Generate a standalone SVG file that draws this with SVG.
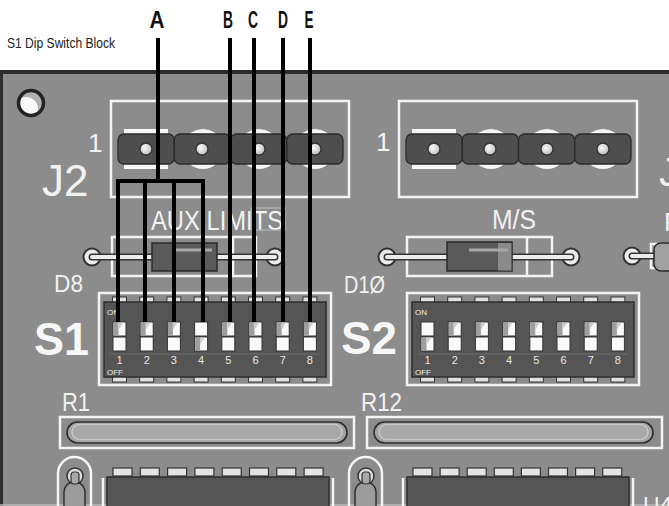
<svg xmlns="http://www.w3.org/2000/svg" xmlns:xlink="http://www.w3.org/1999/xlink" width="669" height="506" viewBox="0 0 669 506">
<style>
.lbl{font-family:"Liberation Sans",Arial,sans-serif;fill:#f2f2f2}
.big{font-family:"Liberation Sans",Arial,sans-serif;font-weight:bold;fill:#f7f7f7}
.cap{font-family:"Liberation Sans",Arial,sans-serif;font-weight:bold;fill:#111;font-size:24px}
.silk{fill:none;stroke:#f4f4f4;stroke-width:2.5}
.cell{fill:#fafafa;stroke:#333;stroke-width:1}
.pin{fill:#e2e2e2;stroke:#333;stroke-width:1}
.body{fill:#555;stroke:#2e2e2e;stroke-width:1.5}
.seg{fill:#4e4e4e;stroke:#2a2a2a;stroke-width:1.3}
.hole{fill:url(#hg);stroke:#333;stroke-width:1.3}
.pad{fill:#f6f6f6}
.num{font-family:"Liberation Sans",Arial,sans-serif;fill:#e6e6e6;font-size:11px;text-anchor:middle}
.tiny{font-family:"Liberation Sans",Arial,sans-serif;fill:#eee;font-size:8px}
.ring{fill:#ececec;stroke:#333;stroke-width:2}
.leadd{stroke:#333;stroke-width:7;stroke-linecap:round;fill:none}
.leadw{stroke:#ececec;stroke-width:4;stroke-linecap:round;fill:none}
.res{fill:#a4a4a4;stroke:#2e2e2e;stroke-width:1.6}
.icpad{fill:#e4e4e4;stroke:#333;stroke-width:1.2}
</style>
<defs>
<radialGradient id="hg" cx="0.4" cy="0.4" r="0.7">
<stop offset="0" stop-color="#fbfbfb"/><stop offset="1" stop-color="#b5b5b5"/>
</radialGradient>
<g id="swon">
<rect class="cell" x="0" y="0" width="13" height="14"/>
<rect x="0.5" y="0.5" width="5" height="13" fill="#9e9e9e"/>
<polygon points="5.5,0.5 10,0.5 5.5,8" fill="#cdcdcd"/>
<rect class="cell" x="0" y="15" width="13" height="14"/>
</g>
<g id="swoff">
<rect class="cell" x="0" y="0" width="13" height="14"/>
<rect class="cell" x="0" y="15" width="13" height="14"/>
<rect x="0.5" y="15.5" width="5" height="13" fill="#9e9e9e"/>
<polygon points="5.5,15.5 10,15.5 5.5,23" fill="#cdcdcd"/>
</g>
<clipPath id="hc"><circle cx="31" cy="103" r="12"/></clipPath>
</defs>

<g id="board">
<rect x="1" y="72" width="720" height="480" fill="#8c8c8c" stroke="#2e2e2e" stroke-width="4"/>
<line x1="0" y1="505" x2="669" y2="505" stroke="#b9b9b9" stroke-width="1.5"/>
<g clip-path="url(#hc)">
<circle cx="31" cy="103" r="12" fill="#b0b0b0"/>
<circle cx="26" cy="109" r="12" fill="#fafafa"/>
</g>
<circle cx="31" cy="103" r="12.5" fill="none" stroke="#222" stroke-width="3.5"/>
</g>

<text class="lbl" x="7" y="48" font-size="15" fill="#222" style="fill:#222" textLength="108" lengthAdjust="spacingAndGlyphs">S1 Dip Switch Block</text>

<g id="J2">
<rect class="silk" x="111" y="101" width="238" height="96"/>
<rect class="pad" x="124" y="129" width="44" height="40"/>
<circle class="pad" cx="203" cy="149" r="20"/>
<circle class="pad" cx="259" cy="149" r="20"/>
<circle class="pad" cx="315" cy="149" r="20"/>
<rect class="seg" x="118" y="134" width="56.25" height="30" rx="6"/>
<rect class="seg" x="174.25" y="134" width="56.25" height="30" rx="6"/>
<rect class="seg" x="230.5" y="134" width="56.25" height="30" rx="6"/>
<rect class="seg" x="286.75" y="134" width="56.25" height="30" rx="6"/>
<circle class="hole" cx="146" cy="149" r="6"/>
<circle class="hole" cx="202" cy="149" r="6"/>
<circle class="hole" cx="259" cy="149" r="6"/>
<circle class="hole" cx="315" cy="149" r="6"/>
<text class="lbl" x="88" y="152" font-size="26">1</text>
<text class="lbl" x="42" y="196" font-size="44">J2</text>
</g>

<g id="J3">
<rect class="silk" x="399" y="101" width="238" height="96"/>
<rect class="pad" x="412" y="129" width="44" height="40"/>
<circle class="pad" cx="491" cy="149" r="20"/>
<circle class="pad" cx="547" cy="149" r="20"/>
<circle class="pad" cx="603" cy="149" r="20"/>
<rect class="seg" x="406" y="134" width="56.25" height="30" rx="6"/>
<rect class="seg" x="462.25" y="134" width="56.25" height="30" rx="6"/>
<rect class="seg" x="518.5" y="134" width="56.25" height="30" rx="6"/>
<rect class="seg" x="574.75" y="134" width="56.25" height="30" rx="6"/>
<circle class="hole" cx="434" cy="149" r="6"/>
<circle class="hole" cx="490" cy="149" r="6"/>
<circle class="hole" cx="547" cy="149" r="6"/>
<circle class="hole" cx="603" cy="149" r="6"/>
<text class="lbl" x="376" y="151" font-size="26">1</text>
<text class="lbl" x="659" y="186" font-size="40">J</text>
</g>

<g id="D8">
<text class="lbl" x="151" y="230" font-size="28" textLength="132" lengthAdjust="spacingAndGlyphs">AUX LIMITS</text>
<rect x="251" y="208" width="34" height="22" fill="none" stroke="#bdbdbd" stroke-width="1"/>
<rect class="silk" x="112" y="237" width="144" height="39"/>
<line x1="233" y1="237" x2="233" y2="276" stroke="#f4f4f4" stroke-width="2.5"/>
<circle class="ring" cx="92" cy="257" r="8.5"/>
<circle class="ring" cx="275" cy="257" r="8.5"/>
<line class="leadd" x1="92" y1="257" x2="275" y2="257"/>
<line class="leadw" x1="92" y1="257" x2="275" y2="257"/>
<rect x="152" y="243" width="65" height="28" fill="#5a5a5a" stroke="#2a2a2a" stroke-width="1.5"/>
<line x1="176" y1="250" x2="212" y2="250" stroke="#a8a8a8" stroke-width="3"/>
<text class="lbl" x="54" y="292" font-size="24" textLength="29" lengthAdjust="spacingAndGlyphs">D8</text>
</g>

<g id="D10">
<text class="lbl" x="492" y="229" font-size="27" textLength="44" lengthAdjust="spacingAndGlyphs">M/S</text>
<rect class="silk" x="407" y="237" width="145" height="39"/>
<line x1="527" y1="237" x2="527" y2="276" stroke="#f4f4f4" stroke-width="2.5"/>
<circle class="ring" cx="387" cy="257" r="8.5"/>
<circle class="ring" cx="571" cy="257" r="8.5"/>
<line class="leadd" x1="387" y1="257" x2="571" y2="257"/>
<line class="leadw" x1="387" y1="257" x2="571" y2="257"/>
<rect x="447" y="242" width="65" height="29" fill="#5a5a5a" stroke="#2a2a2a" stroke-width="1.5"/>
<rect x="498" y="243" width="13.5" height="27.5" fill="#8a8a8a"/>
<line x1="469" y1="250" x2="508" y2="250" stroke="#a8a8a8" stroke-width="3"/>
<text class="lbl" x="344" y="293" font-size="24" textLength="41" lengthAdjust="spacingAndGlyphs">D1Ø</text>
</g>

<g id="D11">
<text class="lbl" x="664" y="231" font-size="26">R</text>
<rect class="silk" x="651" y="244" width="40" height="24"/>
<circle class="ring" cx="632" cy="256" r="8.5"/>
<line class="leadd" x1="632" y1="256" x2="660" y2="256"/>
<line class="leadw" x1="632" y1="256" x2="660" y2="256"/>
<rect x="654" y="243" width="40" height="28" rx="7" fill="#a0a0a0" stroke="#2a2a2a" stroke-width="1.5"/>
</g>

<g id="S1">
<rect class="silk" x="99" y="293" width="232" height="92"/>
<g id="s1pins">
<rect class="pin" x="112.5" y="297" width="14" height="6"/><rect class="pin" x="139.7" y="297" width="14" height="6"/><rect class="pin" x="166.9" y="297" width="14" height="6"/><rect class="pin" x="194.1" y="297" width="14" height="6"/><rect class="pin" x="221.3" y="297" width="14" height="6"/><rect class="pin" x="248.5" y="297" width="14" height="6"/><rect class="pin" x="275.7" y="297" width="14" height="6"/><rect class="pin" x="302.9" y="297" width="14" height="6"/>
<rect class="pin" x="112.5" y="376" width="14" height="6"/><rect class="pin" x="139.7" y="376" width="14" height="6"/><rect class="pin" x="166.9" y="376" width="14" height="6"/><rect class="pin" x="194.1" y="376" width="14" height="6"/><rect class="pin" x="221.3" y="376" width="14" height="6"/><rect class="pin" x="248.5" y="376" width="14" height="6"/><rect class="pin" x="275.7" y="376" width="14" height="6"/><rect class="pin" x="302.9" y="376" width="14" height="6"/>
</g>
<rect class="body" x="104" y="302" width="222" height="75"/>
<line x1="110" y1="354" x2="320" y2="354" stroke="#6c6c6c" stroke-width="1"/>
<text class="tiny" x="107" y="315">ON</text>
<text class="tiny" x="107" y="375">OFF</text>
<use xlink:href="#swon" x="113" y="322"/>
<use xlink:href="#swon" x="140.2" y="322"/>
<use xlink:href="#swon" x="167.4" y="322"/>
<use xlink:href="#swoff" x="194.6" y="322"/>
<use xlink:href="#swon" x="221.8" y="322"/>
<use xlink:href="#swon" x="249" y="322"/>
<use xlink:href="#swon" x="276.2" y="322"/>
<use xlink:href="#swon" x="303.4" y="322"/>
<text class="num" x="119.5" y="364">1</text><text class="num" x="146.7" y="364">2</text><text class="num" x="173.9" y="364">3</text><text class="num" x="201.1" y="364">4</text><text class="num" x="228.3" y="364">5</text><text class="num" x="255.5" y="364">6</text><text class="num" x="282.7" y="364">7</text><text class="num" x="309.9" y="364">8</text>
<text class="big" x="34" y="355" font-size="46" textLength="55" lengthAdjust="spacingAndGlyphs">S1</text>
</g>

<g id="S2">
<rect class="silk" x="407" y="293" width="232" height="92"/>
<g transform="translate(308,0)">
<rect class="pin" x="112.5" y="297" width="14" height="6"/><rect class="pin" x="139.7" y="297" width="14" height="6"/><rect class="pin" x="166.9" y="297" width="14" height="6"/><rect class="pin" x="194.1" y="297" width="14" height="6"/><rect class="pin" x="221.3" y="297" width="14" height="6"/><rect class="pin" x="248.5" y="297" width="14" height="6"/><rect class="pin" x="275.7" y="297" width="14" height="6"/><rect class="pin" x="302.9" y="297" width="14" height="6"/>
<rect class="pin" x="112.5" y="376" width="14" height="6"/><rect class="pin" x="139.7" y="376" width="14" height="6"/><rect class="pin" x="166.9" y="376" width="14" height="6"/><rect class="pin" x="194.1" y="376" width="14" height="6"/><rect class="pin" x="221.3" y="376" width="14" height="6"/><rect class="pin" x="248.5" y="376" width="14" height="6"/><rect class="pin" x="275.7" y="376" width="14" height="6"/><rect class="pin" x="302.9" y="376" width="14" height="6"/>
<rect class="body" x="104" y="302" width="222" height="75"/>
<line x1="110" y1="354" x2="320" y2="354" stroke="#6c6c6c" stroke-width="1"/>
<text class="tiny" x="107" y="315">ON</text>
<text class="tiny" x="107" y="375">OFF</text>
<use xlink:href="#swoff" x="113" y="322"/>
<use xlink:href="#swon" x="140.2" y="322"/>
<use xlink:href="#swon" x="167.4" y="322"/>
<use xlink:href="#swon" x="194.6" y="322"/>
<use xlink:href="#swon" x="221.8" y="322"/>
<use xlink:href="#swon" x="249" y="322"/>
<use xlink:href="#swon" x="276.2" y="322"/>
<use xlink:href="#swon" x="303.4" y="322"/>
<text class="num" x="119.5" y="364">1</text><text class="num" x="146.7" y="364">2</text><text class="num" x="173.9" y="364">3</text><text class="num" x="201.1" y="364">4</text><text class="num" x="228.3" y="364">5</text><text class="num" x="255.5" y="364">6</text><text class="num" x="282.7" y="364">7</text><text class="num" x="309.9" y="364">8</text>
</g>
<text class="big" x="341" y="354" font-size="46" textLength="56" lengthAdjust="spacingAndGlyphs">S2</text>
</g>

<g id="R1">
<text class="lbl" x="62" y="411" font-size="26" textLength="28" lengthAdjust="spacingAndGlyphs">R1</text>
<rect class="silk" x="60" y="417" width="294" height="31"/>
<rect class="res" x="67" y="422" width="280" height="21" rx="10.5"/>
<rect x="72" y="424.5" width="270" height="15" rx="7.5" fill="#a8a8a8" stroke="#c6c6c6" stroke-width="1.5"/>
</g>

<g id="R12">
<text class="lbl" x="361" y="411" font-size="26" textLength="41" lengthAdjust="spacingAndGlyphs">R12</text>
<rect class="silk" x="367" y="417" width="295" height="31"/>
<rect class="res" x="374" y="422" width="279" height="21" rx="10.5"/>
<rect x="379" y="424.5" width="269" height="15" rx="7.5" fill="#a8a8a8" stroke="#c6c6c6" stroke-width="1.5"/>
</g>

<g id="C1">
<rect class="silk" x="58" y="457" width="33" height="70" rx="16.5"/>
<circle cx="75" cy="476" r="8" fill="#dcdcdc" stroke="#333" stroke-width="1.5"/>
<rect x="64" y="482" width="21" height="40" rx="10" fill="#9c9c9c" stroke="#333" stroke-width="1.5"/>
<rect x="71" y="472" width="8" height="12" rx="3" fill="#a8a8a8" stroke="#333" stroke-width="1.2"/>
</g>
<g id="C2">
<rect class="silk" x="349" y="457" width="33" height="70" rx="16.5"/>
<circle cx="366" cy="476" r="8" fill="#dcdcdc" stroke="#333" stroke-width="1.5"/>
<rect x="355" y="482" width="21" height="40" rx="10" fill="#9c9c9c" stroke="#333" stroke-width="1.5"/>
<rect x="362" y="472" width="8" height="12" rx="3" fill="#a8a8a8" stroke="#333" stroke-width="1.2"/>
</g>

<g id="U3">
<line x1="103" y1="478" x2="103" y2="506" stroke="#f4f4f4" stroke-width="2.5"/>
<line x1="333" y1="478" x2="333" y2="506" stroke="#f4f4f4" stroke-width="2.5"/>
<rect class="icpad" x="113" y="468" width="19" height="8"/><rect class="icpad" x="140.3" y="468" width="19" height="8"/><rect class="icpad" x="167.6" y="468" width="19" height="8"/><rect class="icpad" x="194.9" y="468" width="19" height="8"/><rect class="icpad" x="222.2" y="468" width="19" height="8"/><rect class="icpad" x="249.5" y="468" width="19" height="8"/><rect class="icpad" x="276.8" y="468" width="19" height="8"/><rect class="icpad" x="304.1" y="468" width="19" height="8"/>
<rect class="body" x="107" y="477" width="222" height="40"/>
</g>
<g id="U4">
<line x1="403" y1="478" x2="403" y2="506" stroke="#f4f4f4" stroke-width="2.5"/>
<line x1="633" y1="478" x2="633" y2="506" stroke="#f4f4f4" stroke-width="2.5"/>
<rect class="icpad" x="413" y="468" width="19" height="8"/><rect class="icpad" x="440.1" y="468" width="19" height="8"/><rect class="icpad" x="467.2" y="468" width="19" height="8"/><rect class="icpad" x="494.3" y="468" width="19" height="8"/><rect class="icpad" x="521.4" y="468" width="19" height="8"/><rect class="icpad" x="548.5" y="468" width="19" height="8"/><rect class="icpad" x="575.6" y="468" width="19" height="8"/><rect class="icpad" x="602.7" y="468" width="19" height="8"/>
<rect class="body" x="407" y="477" width="222" height="40"/>
<text class="lbl" x="643" y="514" font-size="23">U4</text>
</g>

<g id="connectors" fill="none" stroke="#000" stroke-width="4">
<path d="M158,38 V181"/>
<path d="M118,322 V181 H203 V322 M145,181 V322 M174,181 V322"/>
<path d="M230,38 V322"/>
<path d="M254,38 V322"/>
<path d="M283,38 V322"/>
<path d="M310,38 V322"/>
</g>

<g id="letters">
<text class="cap" x="157" y="28" text-anchor="middle" textLength="15" lengthAdjust="spacingAndGlyphs">A</text>
<text class="cap" x="228" y="28" text-anchor="middle" textLength="10" lengthAdjust="spacingAndGlyphs">B</text>
<text class="cap" x="253" y="28" text-anchor="middle" textLength="10" lengthAdjust="spacingAndGlyphs">C</text>
<text class="cap" x="283" y="28" text-anchor="middle" textLength="10" lengthAdjust="spacingAndGlyphs">D</text>
<text class="cap" x="309" y="28" text-anchor="middle" textLength="9" lengthAdjust="spacingAndGlyphs">E</text>
</g>
</svg>
